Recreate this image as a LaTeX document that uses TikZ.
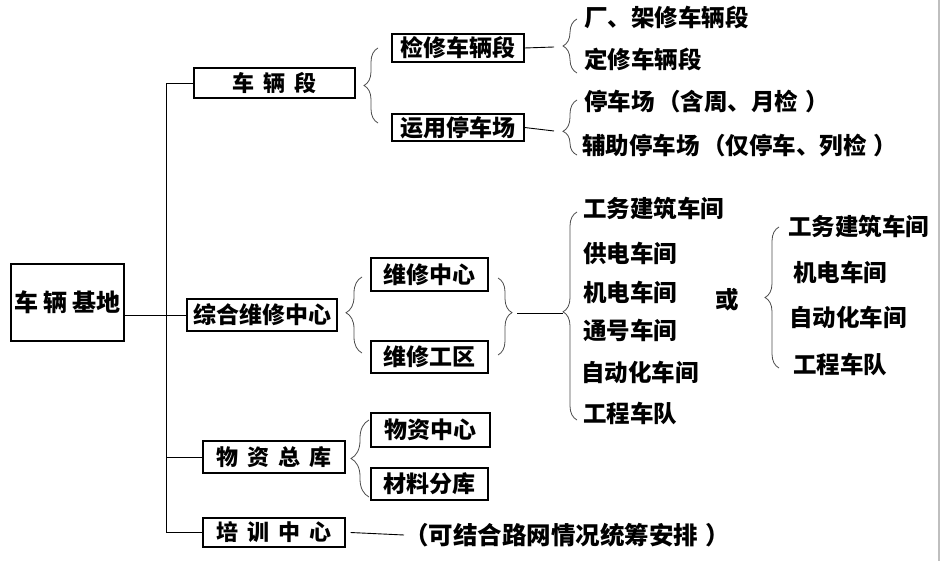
\documentclass[tikz,border=0pt]{standalone}
\usepackage{fontspec}
\newfontfamily\cjk{Noto Sans CJK SC}[BoldFont={Noto Sans CJK SC Black}]
\usetikzlibrary{decorations.pathreplacing}
\newcommand{\jg}{\hspace{0.4em}}
\newcommand{\pa}{\hspace{0.1em}（}
\newcommand{\pc}{\hspace{0.3em}）}
\begin{document}
\begin{tikzpicture}[x=1pt, y=-1pt,
    main/.style = {draw, line width=1.1pt, inner sep=0pt, font=\cjk\bfseries\fontsize{23}{23}\selectfont},
    item/.style = {anchor=west, inner sep=0pt, font=\cjk\bfseries\fontsize{23.5}{24}\selectfont},
    llave/.style = {draw=black!70, line width=0.8pt, decorate, decoration={brace, amplitude=#1}},
    llave/.default = 14]
    \useasboundingbox (0,0) rectangle (941,561);
    \draw[black!25, line width=1.5pt] (939,0) -- (939,561);

    % Nivel 1
    \node[main, minimum width=113, minimum height=77, font=\cjk\bfseries\fontsize{24}{24}\selectfont] (jidi) at (67.5,302.5) {车 辆 基地};

    % Nivel 2
    \node[main, minimum width=161, minimum height=30, font=\cjk\bfseries\fontsize{22}{22}\selectfont] (duan) at (274.5,83) {车\jg 辆\jg 段};
    \node[main, minimum width=150, minimum height=32] (zonghe) at (262,315) {综合维修中心};
    \node[main, minimum width=142, minimum height=32, font=\cjk\bfseries\fontsize{22}{22}\selectfont] (wuzi) at (274,457) {物\jg 资\jg 总\jg 库};
    \node[main, minimum width=142, minimum height=29, font=\cjk\bfseries\fontsize{22}{22}\selectfont] (peixun) at (274,532.5) {培\jg 训\jg 中\jg 心};

    % Nivel 3
    \node[main, minimum width=132, minimum height=28] (jianxiu) at (458,48) {检修车辆段};
    \node[main, minimum width=132, minimum height=27] (yunyong) at (458,127.5) {运用停车场};
    \node[main, minimum width=117, minimum height=33] (wxzx) at (429.5,274.5) {维修中心};
    \node[main, minimum width=117, minimum height=32] (wxgq) at (429.5,357) {维修工区};
    \node[main, minimum width=119, minimum height=34] (wzzx) at (430.5,430) {物资中心};
    \node[main, minimum width=117, minimum height=32] (clfk) at (429.5,484) {材料分库};

    % Nivel 4
    \node[item] (cj) at (584,17) {厂、架修车辆段};
    \node[item] (dx) at (584,59) {定修车辆段};
    \node[item] (tc) at (584,102) {停车场\pa 含周、月检\pc};
    \node[item] (fz) at (582,146) {辅助停车场\pa 仅停车、列检\pc};

    \node[item] (a1) at (583,208) {工务建筑车间};
    \node[item] (a2) at (583,253) {供电车间};
    \node[item] (a3) at (583,292) {机电车间};
    \node[item] (a4) at (583,330) {通号车间};
    \node[item] (a5) at (581,372) {自动化车间};
    \node[item] (a6) at (583,413) {工程车队};

    \node[item, anchor=center] (huo) at (727,300) {或};

    \node[item] (b1) at (788,226) {工务建筑车间};
    \node[item] (b2) at (793,272) {机电车间};
    \node[item] (b3) at (789,317) {自动化车间};
    \node[item] (b4) at (793,364) {工程车队};

    \node[item, font=\cjk\bfseries\fontsize{24.5}{25}\selectfont] (nota) at (404,535) {（可结合路网情况统筹安排\pc};

    % Llaves
    \coordinate (tronco) at (166,0);
    \coordinate (k2) at (562,47);
    \coordinate (k3) at (562,131);
    \coordinate (k5) at (511,313);
    \coordinate (k6) at (563,313);
    \draw[llave] (378,123) -- (378,48);
    \draw[llave] (577,73) -- (577,19);
    \draw[llave, decoration={aspect=0.43}] (577,155) -- (577,100);
    \draw[llave=16, decoration={aspect=0.53}] (362,353) -- (362,277);
    \draw[llave, decoration={aspect=0.45}] (498,278) -- (498,355);
    \draw[llave, decoration={aspect=0.52}] (577,420) -- (577,212);
    \draw[llave] (779,368) -- (779,227);
    \draw[llave=18] (369,497) -- (369,420);

    % Conexiones
    \draw[line width=0.9pt] (duan.west) -| (tronco |- peixun.west) -- (peixun.west);
    \draw[line width=0.9pt] (tronco |- wuzi.west) -- (wuzi.west);
    \draw[line width=0.9pt] (jidi.east |- zonghe.west) -- (zonghe.west);
    \draw[line width=0.9pt] (jianxiu.east) -- (k2 -| 554,0);
    \draw[line width=0.9pt] (yunyong.east) -- (k3 -| 554,0);
    \draw[line width=0.9pt] (k5) ++(6,0) -- (k6);
    \draw[line width=0.9pt] (peixun.east) ++(5,0) -- (nota.west);
\end{tikzpicture}
\end{document}
